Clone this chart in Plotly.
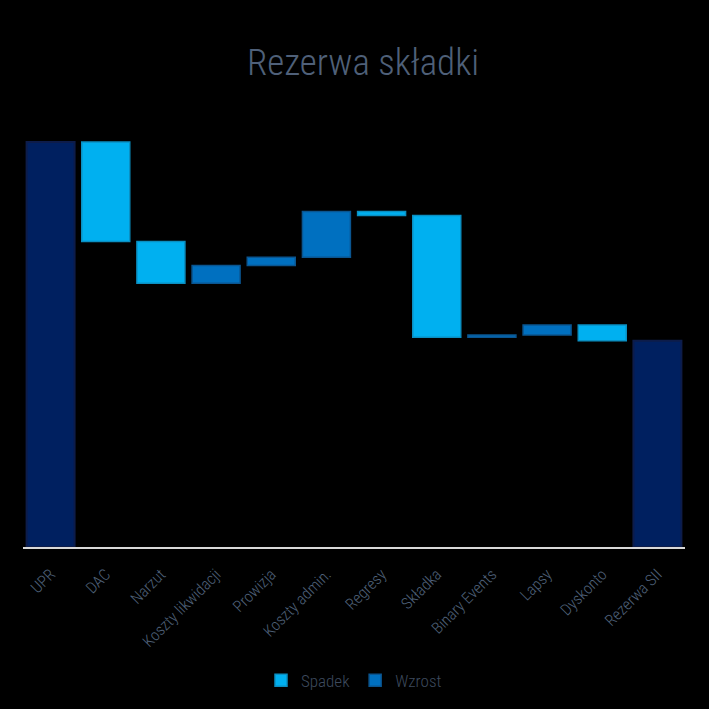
import plotly.graph_objects as go

categories = ["UPR", "DAC", "Narzut", "Koszty likwidacji", "Prowizja", "Koszty admin.",
              "Regresy", "Składka", "Binary Events", "Lapsy", "Dyskonto", "Rezerwa SII"]
# first and last are totals, the rest are changes
changes = [100.0, -24.6, -10.3, 4.4, 2.0, 11.3, -1.0, -30.0, 0.5, 2.5, -3.9, 50.9]
is_total = [True] + [False] * 10 + [True]

FONT = "Roboto Condensed, DejaVu Sans Condensed, Roboto, sans-serif"
C_TOTAL = "#002060"
C_DOWN = "#00B0F0"
C_UP = "#0070C0"

# compute bases from data
tot_x, tot_y = [], []
dn_x, dn_y, dn_b = [], [], []
up_x, up_y, up_b = [], [], []
running = 0.0
for cat, v, t in zip(categories, changes, is_total):
    if t:
        tot_x.append(cat)
        tot_y.append(v)
        running = v
    elif v < 0:
        dn_x.append(cat)
        dn_y.append(-v)
        dn_b.append(running + v)
        running += v
    else:
        up_x.append(cat)
        up_y.append(v)
        up_b.append(running)
        running += v

fig = go.Figure()
fig.add_trace(go.Bar(x=tot_x, y=tot_y, base=[0] * len(tot_x), name="Total",
                     marker=dict(color=C_TOTAL, line=dict(color="#0d1c4a", width=2)),
                     showlegend=False))
fig.add_trace(go.Bar(x=dn_x, y=dn_y, base=dn_b, name="Spadek",
                     marker=dict(color=C_DOWN, line=dict(color="#0a8fc2", width=1.5))))
fig.add_trace(go.Bar(x=up_x, y=up_y, base=up_b, name="Wzrost",
                     marker=dict(color=C_UP, line=dict(color="#0a5590", width=1.5))))

fig.update_layout(
    width=709, height=709,
    paper_bgcolor="black", plot_bgcolor="black",
    barmode="overlay", bargap=0.13,
    margin=dict(l=23, r=24, t=120, b=161),
    title=dict(text="Rezerwa składki", x=0.512, xanchor="center", y=0.912, yanchor="middle",
               font=dict(family=FONT, size=37, color="#4f6079", weight=300)),
    xaxis=dict(categoryorder="array", categoryarray=categories, tickangle=-45,
               showline=True, linecolor="#d9d9d9", linewidth=1.5, ticks="",
               ticklabelstandoff=10,
               showgrid=False, tickfont=dict(family=FONT, size=16, color="#4f6079", weight=300)),
    yaxis=dict(range=[0, 105.4], visible=False, showgrid=False, zeroline=False),
    legend=dict(orientation="h", x=0.5, xanchor="center", y=-0.31, yanchor="middle",
                itemwidth=30,
                font=dict(family=FONT, size=17, color="#3d4a5e", weight=300),
                bgcolor="rgba(0,0,0,0)"),
)

fig.write_html("out.html")
